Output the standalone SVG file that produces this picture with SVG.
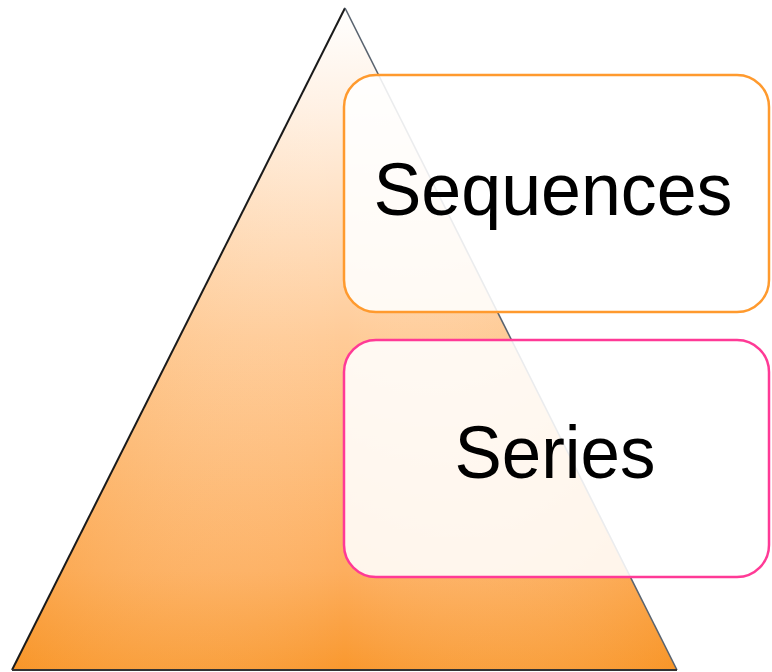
<svg xmlns="http://www.w3.org/2000/svg" width="772" height="672" viewBox="0 0 772 672">
<defs>
<linearGradient id="tri" x1="0" y1="0" x2="0" y2="1">
<stop offset="0" stop-color="#FFFFFF"/>
<stop offset="0.15" stop-color="#FFF1E4"/>
<stop offset="0.5" stop-color="#FFCB97"/>
<stop offset="0.85" stop-color="#FDAE5E"/>
<stop offset="1" stop-color="#F9982E"/>
</linearGradient>
<linearGradient id="side" x1="0" y1="0" x2="1" y2="0">
<stop offset="0" stop-color="#F7921F" stop-opacity="0.35"/>
<stop offset="0.5" stop-color="#FFFFFF" stop-opacity="0"/>
<stop offset="1" stop-color="#F7921F" stop-opacity="0.35"/>
</linearGradient>
</defs>
<style>
.box{fill:#FFFFFF;fill-opacity:0.88;stroke-width:2.5}
.lbl{font-family:"Liberation Sans","DejaVu Sans",sans-serif;font-size:74px;fill:#000;text-anchor:middle}
</style>
<g id="pyramid">
<polygon points="345,8 12,670 677,670" fill="url(#tri)"/>
<polygon points="345,8 12,670 677,670" fill="url(#side)"/>
<line x1="345" y1="8" x2="12" y2="670" stroke="#1a1a1a" stroke-width="2"/>
<line x1="345" y1="8" x2="677" y2="670" stroke="#5a6470" stroke-width="1.6"/>
<line x1="12" y1="670" x2="677" y2="670" stroke="#333" stroke-width="2"/>
</g>
<g id="sequences">
<rect class="box" x="344" y="75" width="425" height="237" rx="32" stroke="#FF9A2E"/>
<text class="lbl" x="553" y="215" textLength="359" lengthAdjust="spacingAndGlyphs">Sequences</text>
</g>
<g id="series">
<rect class="box" x="344" y="340" width="425" height="237" rx="32" stroke="#FF3A96"/>
<text class="lbl" x="555" y="478" textLength="201" lengthAdjust="spacingAndGlyphs">Series</text>
</g>
</svg>
